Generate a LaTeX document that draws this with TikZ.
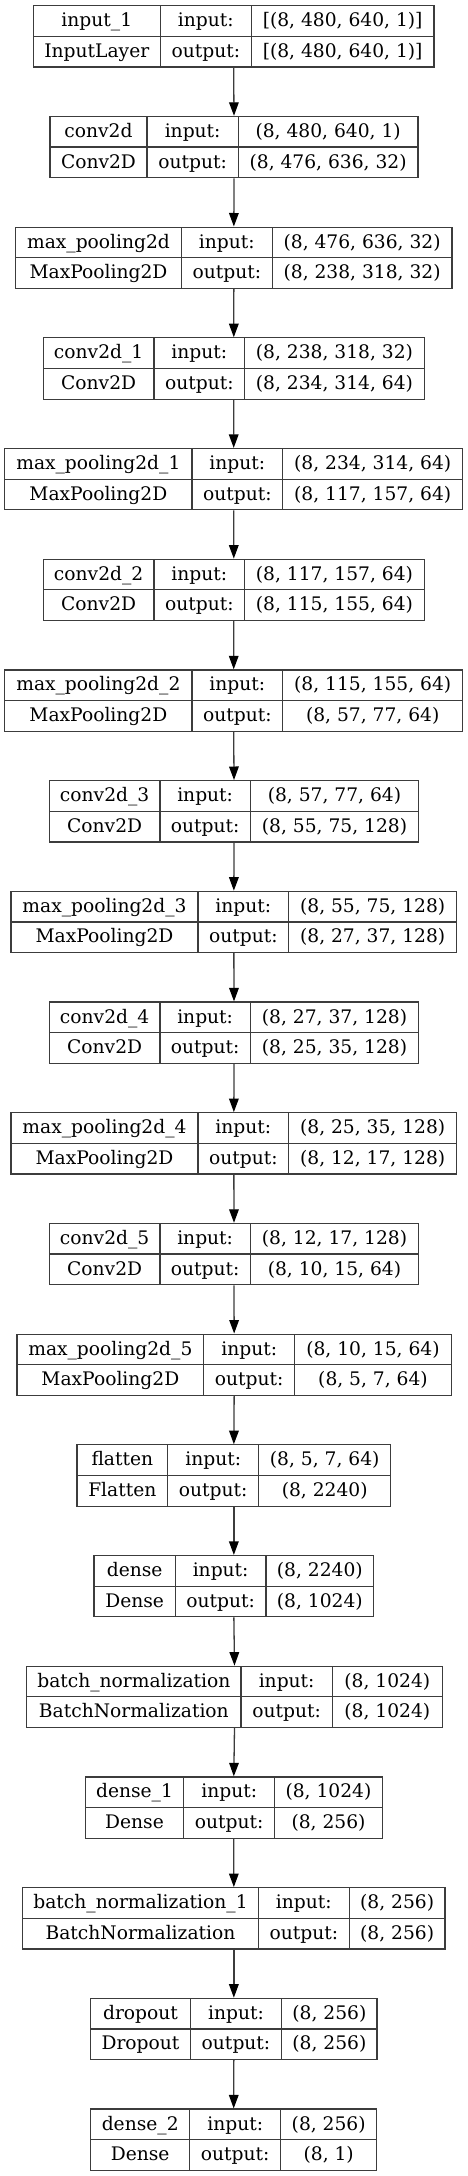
\documentclass[tikz,border=0pt]{standalone}
\usepackage{fontspec}
\setmainfont{DejaVu Serif}
\usetikzlibrary{arrows.meta}
\definecolor{linec}{HTML}{3C3C3C}
\tikzset{
  box/.style={draw=linec, line width=1.2pt, rectangle, minimum height=61.3pt, inner sep=0pt},
  rule/.style={draw=linec, line width=1.2pt},
  txt/.style={anchor=base, inner sep=0pt, font=\fontsize{18.67}{22}\selectfont, text=black},
  link/.style={draw=linec, line width=1.3pt, -{Triangle[length=13.5pt,width=9.6pt,color=black,fill=black]}},
}
% #1 index, #2 left, #3 div1, #4 div2, #5 right, #6 name, #7 class, #8 in, #9 out
\newcommand\kerasLayer[9]{%
  \pgfmathsetmacro\lT{5.7+110.7*#1}%
  \pgfmathsetmacro\lB{\lT+61.3}%
  \pgfmathsetmacro\lM{\lT+30.65}%
  \pgfmathsetmacro\lcx{(#2+#5)/2}%
  \pgfmathsetmacro\lw{#5-#2}%
  \node[box, minimum width=\lw pt] (b#1) at (\lcx,\lM) {};
  \draw[rule] (#3,\lT) -- (#3,\lB);
  \draw[rule] (#4,\lT) -- (#4,\lB);
  \draw[rule] (#2,\lM) -- (#5,\lM);
  \pgfmathsetmacro\lca{(#2+#3)/2}%
  \pgfmathsetmacro\lcb{(#3+#4)/2}%
  \pgfmathsetmacro\lcc{(#4+#5)/2}%
  \node[txt] (b#1name) at (\lca,\lT+21) {#6};
  \node[txt] (b#1cls) at (\lca,\lM+21) {#7};
  \node[txt] (b#1inl) at (\lcb,\lT+21) {input:};
  \node[txt] (b#1outl) at (\lcb,\lM+21) {output:};
  \node[txt] (b#1in) at (\lcc,\lT+21) {#8};
  \node[txt] (b#1out) at (\lcc,\lM+21) {#9};
}
\begin{document}
\begin{tikzpicture}[x=1pt,y=-1pt]
\useasboundingbox (0,0) rectangle (468,2176);
\fill[white] (0,0) rectangle (468,2176);
\kerasLayer{0}{33.3}{160.3}{251.3}{434}{input\_1}{InputLayer}{[(8, 480, 640, 1)]}{[(8, 480, 640, 1)]}
\kerasLayer{1}{50}{147}{238.3}{418}{conv2d}{Conv2D}{(8, 480, 640, 1)}{(8, 476, 636, 32)}
\kerasLayer{2}{15.7}{181.3}{272.3}{452}{max\_pooling2d}{MaxPooling2D}{(8, 476, 636, 32)}{(8, 238, 318, 32)}
\kerasLayer{3}{43.3}{154}{244.7}{424.3}{conv2d\_1}{Conv2D}{(8, 238, 318, 32)}{(8, 234, 314, 64)}
\kerasLayer{4}{4.7}{192}{282.7}{462.7}{max\_pooling2d\_1}{MaxPooling2D}{(8, 234, 314, 64)}{(8, 117, 157, 64)}
\kerasLayer{5}{43.3}{154}{244.7}{424.3}{conv2d\_2}{Conv2D}{(8, 117, 157, 64)}{(8, 115, 155, 64)}
\kerasLayer{6}{4.7}{192}{282.7}{462.7}{max\_pooling2d\_2}{MaxPooling2D}{(8, 115, 155, 64)}{(8, 57, 77, 64)}
\kerasLayer{7}{49.3}{160}{250.3}{418.7}{conv2d\_3}{Conv2D}{(8, 57, 77, 64)}{(8, 55, 75, 128)}
\kerasLayer{8}{11}{198}{288.7}{456.7}{max\_pooling2d\_3}{MaxPooling2D}{(8, 55, 75, 128)}{(8, 27, 37, 128)}
\kerasLayer{9}{49.3}{160}{250.3}{418.7}{conv2d\_4}{Conv2D}{(8, 27, 37, 128)}{(8, 25, 35, 128)}
\kerasLayer{10}{11}{198}{288.7}{456.7}{max\_pooling2d\_4}{MaxPooling2D}{(8, 25, 35, 128)}{(8, 12, 17, 128)}
\kerasLayer{11}{49.3}{160}{250.3}{418.7}{conv2d\_5}{Conv2D}{(8, 12, 17, 128)}{(8, 10, 15, 64)}
\kerasLayer{12}{17}{203.7}{294.7}{451.3}{max\_pooling2d\_5}{MaxPooling2D}{(8, 10, 15, 64)}{(8, 5, 7, 64)}
\kerasLayer{13}{77}{167.7}{258.7}{390.7}{flatten}{Flatten}{(8, 5, 7, 64)}{(8, 2240)}
\kerasLayer{14}{94}{175.3}{266}{373.7}{dense}{Dense}{(8, 2240)}{(8, 1024)}
\kerasLayer{15}{26.7}{241}{332.3}{442.3}{batch\_normalization}{BatchNormalization}{(8, 1024)}{(8, 1024)}
\kerasLayer{16}{85.3}{183.7}{274.7}{382.3}{dense\_1}{Dense}{(8, 1024)}{(8, 256)}
\kerasLayer{17}{22.7}{258.3}{349.3}{445}{batch\_normalization\_1}{BatchNormalization}{(8, 256)}{(8, 256)}
\kerasLayer{18}{90.7}{190.3}{281.7}{377}{dropout}{Dropout}{(8, 256)}{(8, 256)}
\kerasLayer{19}{90.7}{189.7}{280.7}{376.7}{dense\_2}{Dense}{(8, 256)}{(8, 1)}
\foreach \i [evaluate=\i as \j using int(\i+1)] in {0,...,18}
  \draw[link] (b\i.south) -- (b\j.north);
\end{tikzpicture}
\end{document}
